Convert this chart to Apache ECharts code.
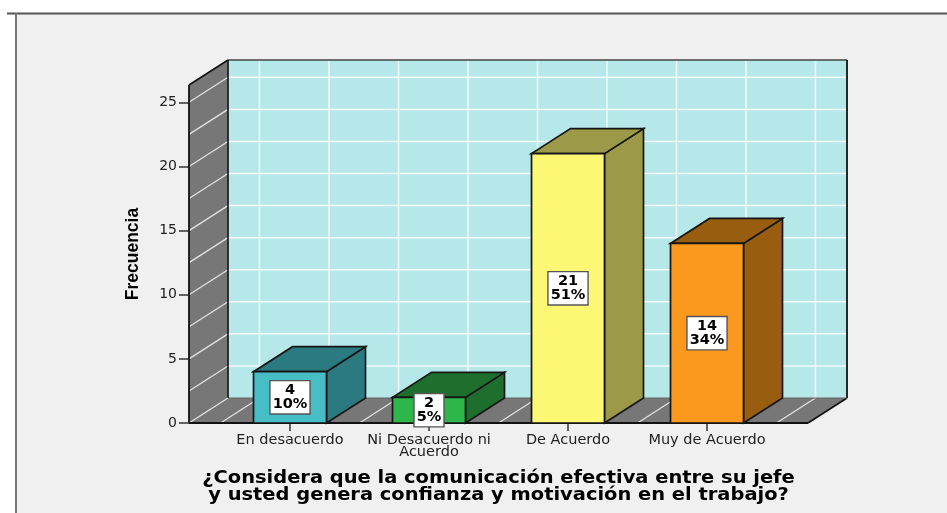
<!DOCTYPE html>
<html><head><meta charset="utf-8">
<style>html,body{margin:0;padding:0;background:#fff}#c{width:947px;height:513px}</style>
<script src="https://cdn.jsdelivr.net/npm/echarts@6/dist/echarts.min.js"></script>
</head><body><div id="c"></div>
<script>
const categorias = ['En desacuerdo', 'Ni Desacuerdo ni\nAcuerdo', 'De Acuerdo', 'Muy de Acuerdo'];
const frecuencias = [4, 2, 21, 14];
const porcentajes = ['10%', '5%', '51%', '34%'];
const marcasY = [0, 5, 10, 15, 20, 25];
const lineasY = [2.5, 5, 7.5, 10, 12.5, 15, 17.5, 20, 22.5, 25];
const lineasX = [-0.5, 0, 0.5, 1, 1.5, 2, 2.5, 3, 3.5];
const maxY = 26.35;
const tituloX = '¿Considera que la comunicación efectiva entre su jefe\ny usted genera confianza y motivación en el trabajo?';
const tituloY = 'Frecuencia';
const coloresFrente = ['#47bec5', '#2fb64b', '#fcf873', '#fb991e'];
const coloresLado = ['#2b7a80', '#1e6f2e', '#9c9a48', '#995d10'];

const DX = 39, DY = -25, PAD_L = 31.5, PAD_R = 31.5, BAR = 0.525;

function poly(points, fill, stroke, w) {
  return { type: 'polygon', shape: { points }, style: { fill, stroke: stroke || null, lineWidth: w || 0 } };
}
function line(x1, y1, x2, y2, stroke, w) {
  return { type: 'line', shape: { x1, y1, x2, y2 }, style: { stroke, lineWidth: w } };
}
function renderCaja(params, api) {
  const band = api.size([1, 0])[0];
  const xAt = v => api.coord([0, 0])[0] + v * band;
  const yAt = v => api.coord([0, v])[1];
  const L = xAt(-0.5) - PAD_L, R = xAt(3.5) + PAD_R, Y0 = yAt(0), T = yAt(maxY);
  const ch = [];
  ch.push(poly([[L + DX, T + DY], [R + DX, T + DY], [R + DX, Y0 + DY], [L + DX, Y0 + DY]], '#b6e7e9'));
  ch.push(poly([[L, T], [L + DX, T + DY], [L + DX, Y0 + DY], [L, Y0]], '#777777'));
  ch.push(poly([[L, Y0], [L + DX, Y0 + DY], [R + DX, Y0 + DY], [R, Y0]], '#777777'));
  lineasY.forEach(v => {
    const y = yAt(v);
    ch.push(line(L + DX, y + DY, R + DX, y + DY, '#f2fbfb', 1.5));
    ch.push(line(L, y, L + DX, y + DY, '#e2e2e2', 1.3));
  });
  lineasX.forEach(v => {
    const x = xAt(v);
    ch.push(line(x + DX, T + DY, x + DX, Y0 + DY, '#f2fbfb', 1.5));
    ch.push(line(x, Y0, x + DX, Y0 + DY, '#e2e2e2', 1.3));
  });
  ch.push(line(L + DX, T + DY, R + DX, T + DY, '#444', 1.6));
  ch.push(line(R + DX, T + DY, R + DX, Y0 + DY, '#111', 1.8));
  ch.push(line(R + DX, Y0 + DY, R, Y0, '#111', 1.6));
  ch.push(line(L + DX, Y0 + DY, R + DX, Y0 + DY, '#666', 1));
  ch.push(line(L + DX, T + DY, L + DX, Y0 + DY, '#111', 1.6));
  ch.push(line(L, T, L + DX, T + DY, '#111', 1.6));
  ch.push(line(L, T, L, Y0, '#111', 1.8));
  ch.push(line(L, Y0, L + DX, Y0 + DY, '#e2e2e2', 1.3));
  ch.push(line(L, Y0, R, Y0, '#111', 2));
  return { type: 'group', children: ch };
}
function renderBarra(params, api) {
  const i = api.value(0), v = api.value(1);
  const p = api.coord([i, v]), b = api.coord([i, 0]);
  const w = api.size([1, 0])[0] * BAR;
  const x0 = p[0] - w / 2, x1 = p[0] + w / 2, yT = p[1], yB = b[1];
  const st = '#161616', lw = 1.7;
  return { type: 'group', children: [
    poly([[x1, yB], [x1 + DX, yB + DY], [x1 + DX, yT + DY], [x1, yT]], coloresLado[i], st, lw),
    poly([[x0, yT], [x1, yT], [x1 + DX, yT + DY], [x0 + DX, yT + DY]], coloresLado[i], st, lw),
    { type: 'rect', shape: { x: x0, y: yT, width: w, height: yB - yT }, style: { fill: coloresFrente[i], stroke: st, lineWidth: lw } }
  ] };
}
function renderEtiqueta(params, api) {
  const i = api.value(0), v = api.value(1);
  const p = api.coord([i, v / 2]);
  return { type: 'text', x: p[0], y: p[1], style: {
    text: v + '\n' + porcentajes[i], fill: '#000', align: 'center', verticalAlign: 'middle',
    font: 'bold 14.5px "DejaVu Sans"', lineHeight: 14, backgroundColor: '#fff',
    borderColor: '#555', borderWidth: 1.4, padding: [2, 2, 2, 2]
  } };
}

const chart = echarts.init(document.getElementById('c'), null, { renderer: 'canvas' });
chart.setOption({
  animation: false,
  backgroundColor: '#ffffff',
  grid: { left: 220.5, right: 170.5, top: 85, bottom: 90 },
  graphic: { elements: [
    { type: 'rect', z: -10, silent: true, shape: { x: 16, y: 13, width: 931, height: 500 }, style: { fill: '#f0f0f0' } },
    { type: 'line', z: -9, silent: true, shape: { x1: 7, y1: 13.5, x2: 947, y2: 13.5 }, style: { stroke: '#555', lineWidth: 2 } },
    { type: 'line', z: -9, silent: true, shape: { x1: 16, y1: 13, x2: 16, y2: 513 }, style: { stroke: '#777', lineWidth: 2 } },
    { type: 'text', z: 5, silent: true, x: 498.5, y: 486.5, scaleX: 1.105, originX: 0, originY: 0,
      style: { text: tituloX, align: 'center', verticalAlign: 'middle', fill: '#000',
        font: 'bold 17.6px "DejaVu Sans"', lineHeight: 17 } }
  ] },
  xAxis: {
    type: 'category', data: categorias, z: 1,
    axisLine: { show: false },
    axisTick: { show: true, alignWithLabel: true, length: 8, lineStyle: { color: '#333', width: 1.5 } },
    axisLabel: { interval: 0, margin: 11, fontFamily: 'DejaVu Sans', fontSize: 14.5, lineHeight: 12, color: '#222' }
  },
  yAxis: {
    type: 'value', min: 0, max: maxY, offset: PAD_L, z: 1,
    name: tituloY, nameLocation: 'middle', nameGap: 47,
    nameTextStyle: { fontFamily: 'Liberation Sans', fontWeight: 'bold', fontSize: 17.5, color: '#000' },
    axisLine: { show: false },
    axisTick: { show: true, length: 10, customValues: marcasY, lineStyle: { color: '#333', width: 1.5 } },
    axisLabel: { margin: 12, customValues: marcasY, fontFamily: 'DejaVu Sans', fontSize: 14, color: '#222' },
    splitLine: { show: false }
  },
  series: [
    { type: 'custom', z: 2, silent: true, renderItem: renderCaja, data: [[0, 0]], encode: { x: 0, y: 1 } },
    { type: 'custom', z: 3, silent: true, renderItem: renderBarra, data: frecuencias.map((v, i) => [i, v]), encode: { x: 0, y: 1 } },
    { type: 'custom', z: 4, silent: true, renderItem: renderEtiqueta, data: frecuencias.map((v, i) => [i, v]), encode: { x: 0, y: 1 } }
  ]
});
</script></body></html>
